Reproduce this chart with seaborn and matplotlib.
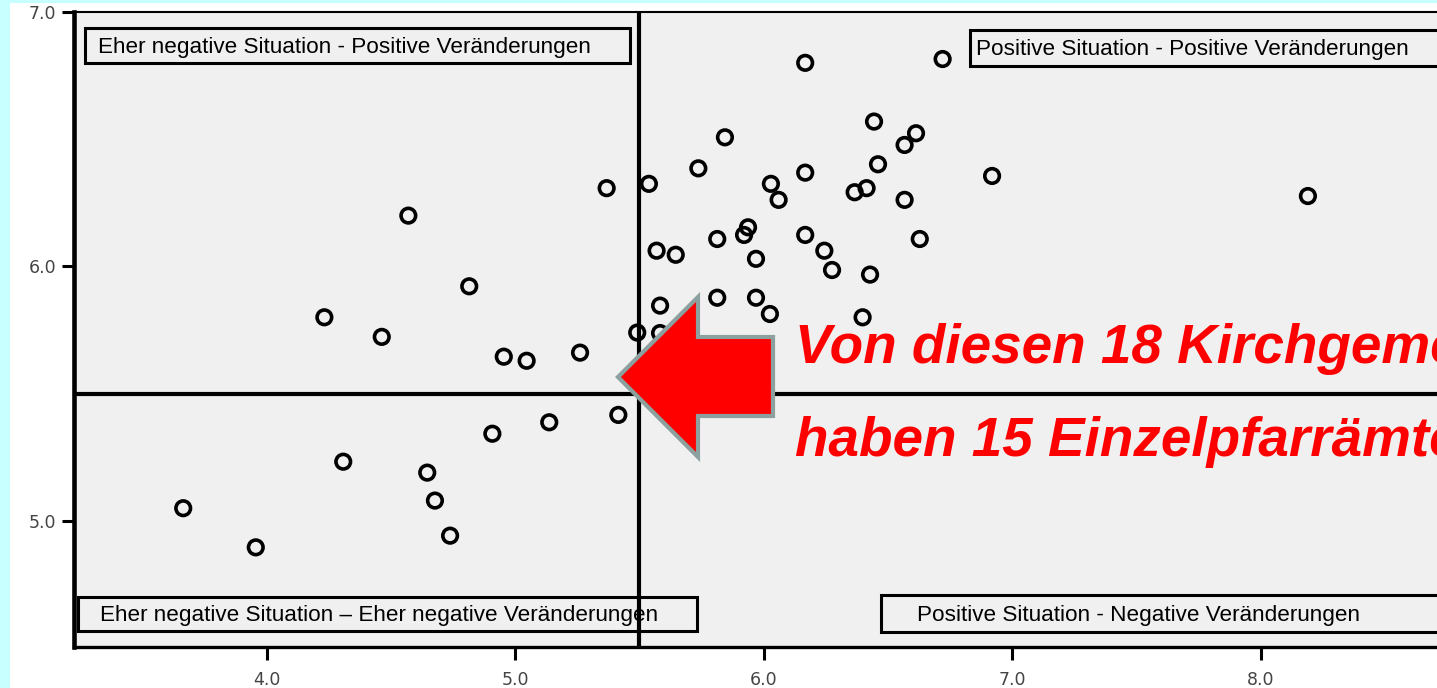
import matplotlib
matplotlib.use("Agg")
import matplotlib.pyplot as plt
from matplotlib.patches import Rectangle, Polygon
import pandas as pd
import seaborn as sns

# ── data ──────────────────────────────────────────────────────────────────────
situation = [3.664, 3.956, 4.232, 4.308, 4.463, 4.570, 4.646, 4.677, 4.738, 4.815,
             4.908, 4.954, 5.046, 5.137, 5.261, 5.368, 5.415, 5.491, 5.538, 5.569,
             5.583, 5.583, 5.646, 5.737, 5.813, 5.813, 5.844, 5.921, 5.937, 5.969,
             5.969, 6.029, 6.025, 6.060, 6.167, 6.167, 6.167, 6.244, 6.275, 6.366,
             6.398, 6.414, 6.428, 6.444, 6.460, 6.567, 6.567, 6.613, 6.628, 6.720,
             6.919, 8.190]
veraenderung = [5.049, 4.895, 5.800, 5.232, 5.723, 6.200, 5.189, 5.079, 4.941, 5.922,
                5.342, 5.645, 5.629, 5.387, 5.661, 6.308, 5.416, 5.740, 6.325, 6.062,
                5.846, 5.738, 6.046, 6.386, 6.108, 5.877, 6.508, 6.124, 6.154, 6.030,
                5.877, 6.325, 5.813, 6.262, 6.801, 6.369, 6.124, 6.062, 5.986, 6.292,
                5.800, 6.308, 5.968, 6.570, 6.402, 6.478, 6.262, 6.524, 6.108, 6.816,
                6.356, 6.277]

x_ticks = [4.0, 5.0, 6.0, 7.0, 8.0]
y_ticks = [5.0, 6.0, 7.0]
x_split = 5.5
y_split = 5.5

quadrant_labels = [
    "Eher negative Situation - Positive Veränderungen",
    "Positive Situation - Positive Veränderungen",
    "Eher negative Situation \u2013 Eher negative Veränderungen",
    "Positive Situation - Negative Veränderungen",
]
note_lines = ["Von diesen 18 Kirchgemeinden", "haben 15 Einzelpfarrämter"]

df = pd.DataFrame({"situation": situation, "veraenderung": veraenderung})

# ── figure / layout in pixel units ────────────────────────────────────────────
W, H = 1437, 688


def fx(px):
    return px / W


def fy(py):
    return 1 - py / H


sns.set_style("white")
plt.rcParams["font.family"] = ["Liberation Sans", "DejaVu Sans"]

fig = plt.figure(figsize=(W / 100, H / 100), dpi=100)
fig.patch.set_facecolor("white")
cyan = "#C8FFFF"
fig.patches.append(Rectangle((0, 0), fx(10), 1, transform=fig.transFigure,
                             facecolor=cyan, edgecolor="none", zorder=0))
fig.patches.append(Rectangle((0, fy(3)), 1, 1 - fy(3), transform=fig.transFigure,
                             facecolor=cyan, edgecolor="none", zorder=0))

ax = fig.add_axes([fx(74), fy(647), 1 - fx(74), fy(12) - fy(647)])
ax.set_facecolor("#F0F0F0")

sns.scatterplot(data=df, x="situation", y="veraenderung", ax=ax, s=110,
                marker="o", color="black", linewidth=2.6, legend=False, zorder=3)
ax.collections[-1].set_facecolor("none")
ax.collections[-1].set_edgecolor("black")

ax.axvline(x_split, color="black", lw=3, zorder=4)
ax.axhline(y_split, color="black", lw=3, zorder=4)

ax.set_xlim(3.2245, 8.7095)
ax.set_ylim(4.503, 7.001)
ax.set_xticks(x_ticks)
ax.set_xticklabels([f"{t:.1f}" for t in x_ticks])
ax.set_yticks(y_ticks)
ax.set_yticklabels([f"{t:.1f}" for t in y_ticks])
ax.set_xlabel("")
ax.set_ylabel("")
ax.tick_params(axis="both", direction="out", length=9, width=2.2, color="black",
               labelsize=12.5, labelcolor="#444444")
ax.tick_params(axis="x", pad=8, bottom=True)
ax.tick_params(axis="y", pad=4, left=True)
for lab in ax.get_xticklabels() + ax.get_yticklabels():
    lab.set_family("DejaVu Sans")

ax.spines["right"].set_visible(False)
ax.spines["left"].set_linewidth(3.3)
ax.spines["bottom"].set_linewidth(2.4)
ax.spines["top"].set_linewidth(1.5)
for s in ax.spines.values():
    s.set_color("black")

# ── quadrant label boxes ──────────────────────────────────────────────────────
boxes = [(85, 28, 630, 63, 98), (970, 30, 1470, 66, 976),
         (78, 597, 697, 631, 100), (881, 595, 1470, 632, 917)]
for (x0, y0, x1, y1, tx), label in zip(boxes, quadrant_labels):
    ax.add_patch(Rectangle((fx(x0), fy(y1)), fx(x1) - fx(x0), fy(y0) - fy(y1),
                           transform=fig.transFigure, facecolor="#F0F0F0",
                           edgecolor="black", lw=2.2, zorder=2, clip_on=False))
    ax.text(fx(tx), fy((y0 + y1) / 2 + 1.5), label, transform=fig.transFigure,
            fontsize=16.2, color="black", va="center", ha="left", zorder=2.5)

# ── arrow + note ──────────────────────────────────────────────────────────────
arrow_px = [(618, 377), (698, 297), (698, 337), (773, 337),
            (773, 416), (698, 416), (698, 457)]
ax.add_patch(Polygon([(fx(x), fy(y)) for x, y in arrow_px], closed=True,
                     transform=fig.transFigure, facecolor="#FF0000",
                     edgecolor="#8CA0A0", lw=3, zorder=6, clip_on=False))

for line, base in zip(note_lines, [363, 456]):
    fig.text(fx(795), fy(base), line, fontsize=39.5, color="#FF0000",
             fontweight="bold", fontstyle="italic", ha="left", va="baseline",
             zorder=7)

fig.savefig("out.png", dpi=100)
